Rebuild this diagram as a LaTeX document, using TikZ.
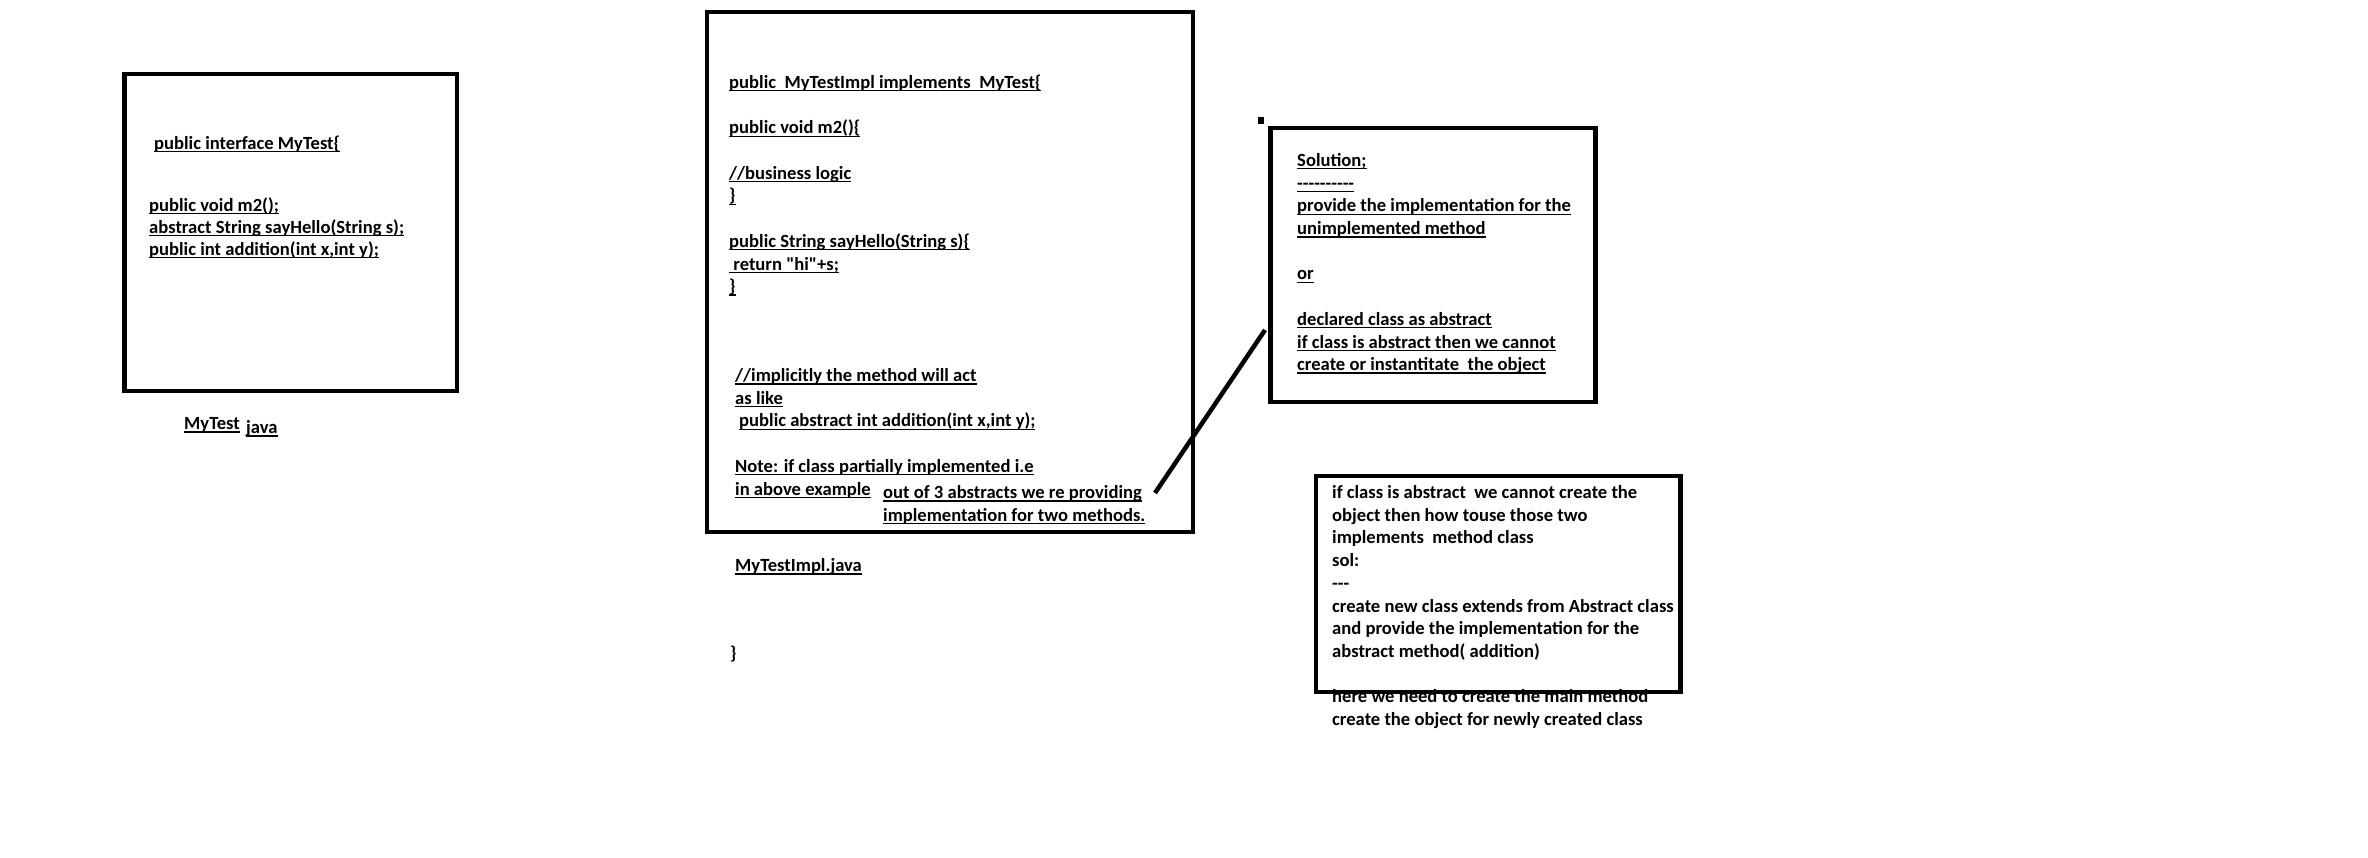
\documentclass[tikz,border=0pt]{standalone}
\usepackage{fontspec}
\setmainfont{Carlito}[Ligatures=TeXOff]
\newsavebox{\myulbox}
\newcommand{\myul}[1]{\sbox{\myulbox}{#1}\rlap{\rule[-3pt]{\wd\myulbox}{1.3pt}}\usebox{\myulbox}}
\tikzset{
  box/.style={draw, line width=4.5pt, inner sep=0pt},
  txt/.style={anchor=base west, inner sep=0pt, font=\fontsize{18.6}{22.7}\selectfont\bfseries},
  txtb/.style={anchor=base west, inner sep=0pt, font=\fontsize{18.6}{22}\selectfont\bfseries},
  conn/.style={line width=4.5pt}
}
\begin{document}
\begin{tikzpicture}[x=1pt,y=-1pt]
\useasboundingbox (0,0) rectangle (2368,858);

\begin{scope}[yshift=-1.5pt]
% ---- Box 1 text: interface
\node[txtb] (t1a) at (154,148) {\myul{public interface MyTest\{}};
\node[txtb] (t1b) at (149,210) {\begin{tabular}[t]{@{}l@{}}
\myul{public void m2();}\\
\myul{abstract String sayHello(String s);}\\
\myul{public int addition(int x,int y);}
\end{tabular}};
\node[txt] (l1a) at (184,428) {\myul{MyTest}};
\node[txt] (l1b) at (246,432) {\myul{java}};

% ---- Box 2 text: implementation
\node[txt] (t2a) at (729,87) {\begin{tabular}[t]{@{}l@{}}
\myul{public~ MyTestImpl implements~ MyTest\{}\\
\\
\myul{public void m2()\{}\\
\\
\myul{//business logic}\\
\myul{\}}\\
\\
\myul{public String sayHello(String s)\{}\\
\myul{~return "hi"+s;}\\
\myul{\}}
\end{tabular}};
\node[txt] (t2b) at (735,380) {\begin{tabular}[t]{@{}l@{}}
\myul{//implicitly the method will act}\\
\myul{as like}\\
\hspace*{4pt}\myul{public abstract int addition(int x,int y);}\\
\\
\myul{Note: if class partially implemented i.e}\\
\myul{in above example}
\end{tabular}};
\node[txt] (t2c) at (883,497) {\begin{tabular}[t]{@{}l@{}}
\myul{out of 3 abstracts we re providing}\\
\myul{implementation for two methods.}
\end{tabular}};
\node[txt] (l2) at (735,570) {\myul{MyTestImpl.java}};
\node[txt] (cl) at (730,658) {\}};

% ---- Box 3 text: solution
\node[txt] (t3) at (1297,165) {\begin{tabular}[t]{@{}l@{}}
\myul{Solution;}\\
\myul{----------}\\
\myul{provide the implementation for the}\\
\myul{unimplemented method}\\
\\
\myul{or}\\
\\
\myul{declared class as abstract}\\
\myul{if class is abstract then we cannot}\\
\myul{create or instantitate~ the object}
\end{tabular}};

% ---- Box 4 text
\node[txt] (t4) at (1332,497) {\begin{tabular}[t]{@{}l@{}}
if class is abstract~ we cannot create the\\
object then how touse those two\\
implements~ method class\\
sol:\\
---\\
create new class extends from Abstract class\\
and provide the implementation for the\\
abstract method( addition)\\
\\
here we need to create the main method\\
create the object for newly created class
\end{tabular}};
\end{scope}

% ---- boxes
\node[box, minimum width=332.5pt, minimum height=317pt] (b1) at (290.75,232.5) {};
\node[box, minimum width=486pt, minimum height=520pt] (b2) at (950,272) {};
\node[box, minimum width=325pt, minimum height=274pt] (b3) at (1433,265) {};
\node[box, minimum width=364.5pt, minimum height=216pt] (b4) at (1498.25,584) {};

% ---- connector and marker
\coordinate (p1) at (1155,493);
\coordinate (p2) at (1265,330);
\draw[conn] (p1) -- (p2);
\node[fill, minimum width=6pt, minimum height=7pt, inner sep=0pt] (dot) at (1261,120.5) {};
\end{tikzpicture}
\end{document}
